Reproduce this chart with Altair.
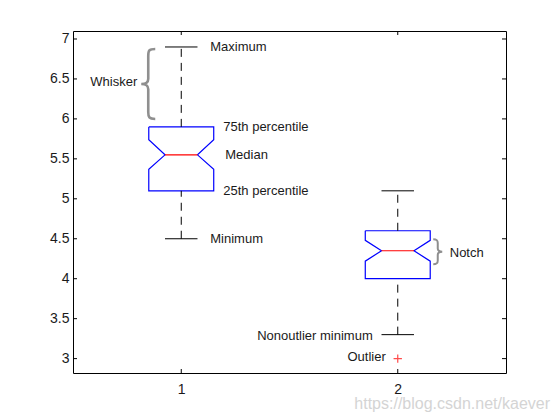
import altair as alt
import pandas as pd

# ---- data ----
positions = [1, 2]
q1 = [5.1, 4.0]
q3 = [5.9, 4.6]
medians = [5.55, 4.35]
notch_lo = [5.37, 4.22]
notch_hi = [5.74, 4.48]
whisker_lo = [4.5, 3.3]
whisker_hi = [6.9, 5.1]
outlier_pos = [2]
outlier_val = [3.0]
y_ticks = [3, 3.5, 4, 4.5, 5, 5.5, 6, 6.5, 7]
x_ticks = [1, 2]

# ---- styles ----
W, H = 433, 342
HALF = 0.15      # box half-width (data units)
NOTCH = 0.075    # notch inner half-width
CAP = 0.075
FONT = "Liberation Sans"
TXT = "#1a1a1a"

xs = alt.Scale(domain=[0.5, 2.5], nice=False, zero=False)
ys = alt.Scale(domain=[2.82, 7.1], nice=False, zero=False)

stats = pd.DataFrame({
    "pos": positions, "q1": q1, "q3": q3, "med": medians,
    "nlo": notch_lo, "nhi": notch_hi, "wlo": whisker_lo, "whi": whisker_hi,
})

# notched box outline, built from the stats
rows = []
for i, p in enumerate(positions):
    pts = [
        (p - HALF, q3[i]), (p + HALF, q3[i]), (p + HALF, notch_hi[i]),
        (p + NOTCH, medians[i]), (p + HALF, notch_lo[i]), (p + HALF, q1[i]),
        (p - HALF, q1[i]), (p - HALF, notch_lo[i]), (p - NOTCH, medians[i]),
        (p - HALF, notch_hi[i]), (p - HALF, q3[i]),
    ]
    for k, (xv, yv) in enumerate(pts):
        rows.append({"box": i, "ord": k, "x": xv, "y": yv})
outline = pd.DataFrame(rows)

base = alt.Chart(stats)

box = alt.Chart(outline).mark_line(color="#0000ff", strokeWidth=1.2).encode(
    x=alt.X("x:Q", scale=xs, axis=alt.Axis(values=x_ticks, title=None, ticks=False, tickSize=0,
                                           domain=False, grid=False, format="~g", labelFont=FONT,
                                           labelFontSize=14, labelColor=TXT, labelPadding=9)),
    y=alt.Y("y:Q", scale=ys, axis=alt.Axis(values=y_ticks, title=None, ticks=False, tickSize=0,
                                           domain=False, grid=False, format="~g", labelFont=FONT,
                                           labelFontSize=14, labelColor=TXT, labelPadding=4)),
    detail="box:N",
    order="ord:Q",
)

dash = [8, 6]
whisk_up = base.mark_rule(color="black", strokeDash=dash, strokeWidth=1).encode(
    x=alt.X("pos:Q", scale=xs), y=alt.Y("q3:Q", scale=ys), y2="whi:Q")
whisk_dn = base.mark_rule(color="black", strokeDash=dash, strokeWidth=1).encode(
    x=alt.X("pos:Q", scale=xs), y=alt.Y("wlo:Q", scale=ys), y2="q1:Q")

caps = base.transform_calculate(l=f"datum.pos - {CAP}", r=f"datum.pos + {CAP}")
cap_hi = caps.mark_rule(color="black", strokeWidth=1).encode(
    x=alt.X("l:Q", scale=xs), x2="r:Q", y=alt.Y("whi:Q", scale=ys))
cap_lo = caps.mark_rule(color="black", strokeWidth=1).encode(
    x=alt.X("l:Q", scale=xs), x2="r:Q", y=alt.Y("wlo:Q", scale=ys))

med = base.transform_calculate(l=f"datum.pos - {NOTCH}", r=f"datum.pos + {NOTCH}").mark_rule(
    color="#ff0000", strokeWidth=1.2).encode(
    x=alt.X("l:Q", scale=xs), x2="r:Q", y=alt.Y("med:Q", scale=ys))

out_df = pd.DataFrame({"pos": outlier_pos, "val": outlier_val})
outl = alt.Chart(out_df).mark_point(
    shape="M -1 0 L 1 0 M 0 -1 L 0 1", size=70, color="#ff0000", filled=False, strokeWidth=1.2
).encode(x=alt.X("pos:Q", scale=xs), y=alt.Y("val:Q", scale=ys))

# ---- annotations ----
def label(text, xi, yv, dx, dy=0, align="left"):
    d = pd.DataFrame({"pos": [xi], "val": [yv], "t": [text]})
    return alt.Chart(d).mark_text(align=align, baseline="middle", dx=dx, dy=dy, font=FONT,
                                  fontSize=13, color=TXT).encode(
        x=alt.X("pos:Q", scale=xs), y=alt.Y("val:Q", scale=ys), text="t:N")

ann = [
    label("Maximum", positions[0], whisker_hi[0], 29),
    label("75th percentile", positions[0], q3[0], 42),
    label("Median", positions[0], medians[0], 44),
    label("25th percentile", positions[0], q1[0], 42),
    label("Minimum", positions[0], whisker_lo[0], 29),
    label("Whisker", positions[0], (q3[0] + whisker_hi[0]) / 2, -44, -5, "right"),
    label("Notch", positions[1], medians[1], 52, 2),
    label("Nonoutlier minimum", positions[1], whisker_lo[1], -25, 1, "right"),
    label("Outlier", positions[1], outlier_val[0], -12, -2, "right"),
]

brace_l = "M 0.2 -1 C 0.02 -1 0 -0.95 0 -0.8 L 0 -0.15 C 0 -0.04 -0.06 0 -0.2 0 C -0.06 0 0 0.04 0 0.15 L 0 0.8 C 0 0.95 0.02 1 0.2 1"
brace_r = "M -0.36 -1 C -0.05 -1 0 -0.9 0 -0.7 L 0 -0.25 C 0 -0.08 0.1 0 0.36 0 C 0.1 0 0 0.08 0 0.25 L 0 0.7 C 0 0.9 -0.05 1 -0.36 1"

bw = pd.DataFrame({"pos": [positions[0]], "val": [(q3[0] + whisker_hi[0]) / 2]})
brace_w = alt.Chart(bw).mark_point(shape=brace_l, size=70 * 70, filled=False, color="#8f8f8f",
                                   strokeWidth=2.6, xOffset=-33, yOffset=-3, opacity=1).encode(
    x=alt.X("pos:Q", scale=xs), y=alt.Y("val:Q", scale=ys))
bn = pd.DataFrame({"pos": [positions[1]], "val": [medians[1]]})
brace_n = alt.Chart(bn).mark_point(shape=brace_r, size=25 * 25, filled=False, color="#8f8f8f",
                                   strokeWidth=2, xOffset=40, yOffset=1, opacity=1).encode(
    x=alt.X("pos:Q", scale=xs), y=alt.Y("val:Q", scale=ys))

# ---- inward ticks on all four sides ----
yt = pd.DataFrame({"v": y_ticks})
xt = pd.DataFrame({"v": x_ticks})
TL = 4
tk = dict(color="black", strokeWidth=1)
t_left = alt.Chart(yt).mark_rule(**tk).encode(x=alt.value(0), x2=alt.value(TL), y=alt.Y("v:Q", scale=ys))
t_right = alt.Chart(yt).mark_rule(**tk).encode(x=alt.value(W - TL), x2=alt.value(W), y=alt.Y("v:Q", scale=ys))
t_bot = alt.Chart(xt).mark_rule(**tk).encode(y=alt.value(H), y2=alt.value(H - TL), x=alt.X("v:Q", scale=xs))
t_top = alt.Chart(xt).mark_rule(**tk).encode(y=alt.value(0), y2=alt.value(TL), x=alt.X("v:Q", scale=xs))

wm = alt.Chart(pd.DataFrame({"t": ["https://blog.csdn.net/kaever"]})).mark_text(
    align="right", baseline="middle", font=FONT, fontSize=16, color="#d4d4d4").encode(
    x=alt.value(W + 44), y=alt.value(H + 31), text="t:N")

chart = alt.layer(
    box, whisk_up, whisk_dn, cap_hi, cap_lo, med, outl, brace_w, brace_n,
    t_left, t_right, t_bot, t_top, wm, *ann
).properties(
    width=W, height=H,
    autosize=alt.AutoSizeParams(type="none"),
    padding={"left": 65, "top": 23, "right": 46, "bottom": 39},
    background="white",
).configure_view(stroke="black", strokeWidth=1)

chart.save("out.html", embed_options={"renderer": "svg", "actions": False})
